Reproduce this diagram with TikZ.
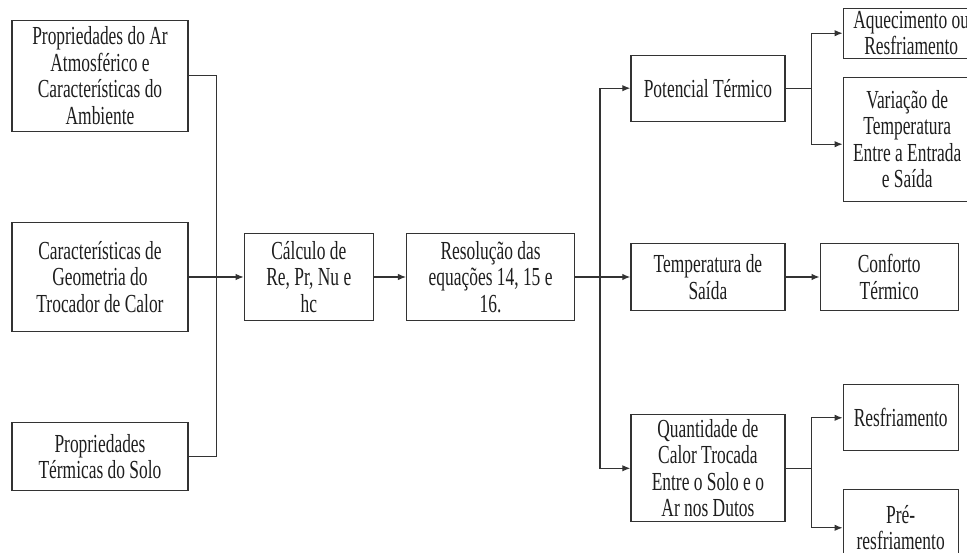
\documentclass[tikz,border=0pt]{standalone}
\usepackage{fontspec}
\setmainfont{Liberation Serif}[FakeStretch=0.67]
\usetikzlibrary{positioning,arrows.meta,calc}
\definecolor{boxLine}{HTML}{333333}
\definecolor{txtGray}{HTML}{1E1E1E}

\begin{document}
\begin{tikzpicture}[
  font=\fontsize{26}{26.5}\selectfont,
  >=Latex,
  %% Node styles
  box/.style={
    rectangle, draw=boxLine, line width=1.3pt, fill=white,
    text=txtGray, align=center, inner sep=2pt
  },
  %% Arrow styles
  link/.style={line width=1.1pt, color=boxLine},
  arr/.style={-{Latex[length=8pt,width=6.5pt]}, line width=1.1pt, color=boxLine},
]

%% page frame (right column is cut off at the edge)
\useasboundingbox (0,0) rectangle (967pt,-553pt);
\clip (0,0) rectangle (967pt,-553pt);

%% ── Inputs (left column) ───────────────────────────────────────────────────
\node[box, minimum width=176pt, minimum height=109pt] (geom) at (100pt,-277pt)
  {Características de\\Geometria do\\Trocador de Calor};
\node[box, minimum width=176pt, minimum height=111pt, above=90pt of geom] (propAr)
  {Propriedades do Ar\\Atmosférico e\\Características do\\Ambiente};
\node[box, minimum width=176pt, minimum height=68pt, below=90pt of geom] (solo)
  {Propriedades\\Térmicas do Solo};

%% ── Calculation chain ──────────────────────────────────────────────────────
\node[box, minimum width=129pt, minimum height=87pt, right=55pt of geom] (calc)
  {Cálculo de\\Re, Pr, Nu e\\hc};
\node[box, minimum width=168pt, minimum height=87pt, right=32pt of calc] (reso)
  {Resolução das\\equações 14, 15 e\\16.};

%% ── Results ────────────────────────────────────────────────────────────────
\node[box, minimum width=154pt, minimum height=67pt, right=55pt of reso] (temp)
  {Temperatura de\\Saída};
\node[box, minimum width=154pt, minimum height=66pt, above=121pt of temp] (pot)
  {Potencial Térmico};
\node[box, minimum width=154pt, minimum height=107pt, below=103pt of temp] (quant)
  {Quantidade de\\Calor Trocada\\Entre o Solo e o\\Ar nos Dutos};
\node[box, minimum width=138pt, minimum height=67pt, right=34pt of temp] (conf)
  {Conforto\\Térmico};

%% ── Outcomes (right column) ────────────────────────────────────────────────
\node[box, minimum width=136pt, minimum height=50pt, right=57pt of pot, yshift=55pt] (aquec)
  {Aquecimento ou\\Resfriamento};
\node[box, minimum width=128pt, minimum height=124pt, right=57pt of pot, yshift=-51pt] (var)
  {Variação de\\Temperatura\\Entre a Entrada\\e Saída};
\node[box, minimum width=115pt, minimum height=66pt, right=57pt of quant, yshift=50.5pt] (resf)
  {Resfriamento};
\node[box, minimum width=115pt, minimum height=76pt, right=57pt of quant, yshift=-59.5pt] (pre)
  {Pré-\\resfriamento};

%% ── Connectors ─────────────────────────────────────────────────────────────
\coordinate (busL) at ($(geom.east)!0.5!(calc.west)$);
\draw[link] (propAr.east) -| (busL |- solo.east) -- (solo.east);
\draw[arr]  (geom.east) -- (calc.west);
\draw[arr]  (calc) -- (reso);

\coordinate (busM) at ($(reso.east)!0.45!(temp.west)$);
\draw[arr]  (reso.east) -- (temp.west);
\draw[arr]  (busM) |- (pot.west);
\draw[arr]  (busM) |- (quant.west);
\draw[arr]  (temp) -- (conf);

\coordinate (busT) at ($(pot.east)!0.46!(aquec.west)$);
\draw[link] (pot.east) -- (busT |- pot.east);
\draw[arr]  (busT |- pot.east) |- (aquec.west);
\draw[arr]  (busT |- pot.east) |- ([yshift=-5pt]var.west);

\coordinate (busB) at ($(quant.east)!0.46!(resf.west)$);
\draw[link] (quant.east) -- (busB |- quant.east);
\draw[arr]  (busB |- quant.east) |- (resf.west);
\draw[arr]  (busB |- quant.east) |- (pre.west);

\end{tikzpicture}
\end{document}
